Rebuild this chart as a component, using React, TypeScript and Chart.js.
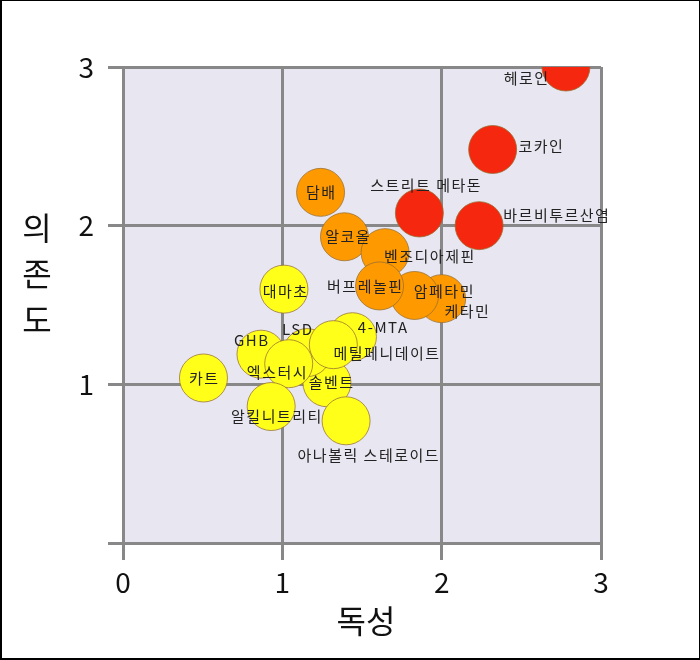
import React, { useEffect, useRef } from 'react';
import { Chart, registerables } from 'chart.js';

Chart.register(...registerables);

// ---- data ----
const drugs = [
  '헤로인', '코카인', '바르비투르산염', '스트리트 메타돈', '알코올',
  '케타민', '벤조디아제핀', '암페타민', '담배', '버프레놀핀',
  '대마초', '솔벤트', '4-MTA', 'LSD', '메틸페니데이트',
  '아나볼릭 스테로이드', 'GHB', '엑스터시', '알킬니트리티', '카트',
];
const toxicity = [
  2.78, 2.32, 2.235, 1.86, 1.39,
  2.0, 1.645, 1.83, 1.24, 1.61,
  1.01, 1.28, 1.44, 1.155, 1.32,
  1.40, 0.866, 1.04, 0.93, 0.505,
];
const dependence = [
  3.0, 2.48, 2.0, 2.08, 1.93,
  1.54, 1.83, 1.56, 2.21, 1.62,
  1.60, 1.01, 1.30, 1.20, 1.25,
  0.77, 1.19, 1.13, 0.86, 1.04,
];
const harmGroup = [
  'high', 'high', 'high', 'high', 'mid',
  'mid', 'mid', 'mid', 'mid', 'mid',
  'low', 'low', 'low', 'low', 'low',
  'low', 'low', 'low', 'low', 'low',
];
const xTickValues = [0, 1, 2, 3];
const xTickLabels = ['0', '1', '2', '3'];
const yTickValues = [0, 1, 2, 3];
const yTickLabels = ['', '1', '2', '3'];
const xTitle = '독성';
const yTitle = '의존도';

// ---- style ----
const groupColor: Record<string, string> = {
  high: '#F5280F',
  mid: '#FF9900',
  low: '#FFFF1A',
};
// label shift (px) relative to marker centre
const labelShift: [number, number][] = [
  [-40, 11], [48, -3], [77, -10], [6, -28], [3, 0],
  [25, 13], [44, 4], [29, -4], [0, 0], [-15, 0],
  [1, 2], [4, 0], [30, -9], [-10, -23], [53, 9],
  [22, 34], [-10, -14], [-12, 9], [5, 10], [0, 0],
];
const FONT = '"Noto Sans CJK KR", "Noto Sans", sans-serif';

export default function App() {
  const ref = useRef<HTMLCanvasElement | null>(null);

  useEffect(() => {
    document.body.style.margin = '0';
    const canvas = ref.current;
    if (!canvas) return;

    const bgPlugin = {
      id: 'bg',
      beforeDraw(chart: any) {
        const { ctx, chartArea, width, height } = chart;
        ctx.save();
        ctx.fillStyle = '#ffffff';
        ctx.fillRect(0, 0, width, height);
        ctx.fillStyle = '#E8E7F1';
        ctx.fillRect(chartArea.left, chartArea.top, chartArea.right - chartArea.left, chartArea.bottom - chartArea.top);
        ctx.restore();
      },
      afterDatasetsDraw(chart: any) {
        const { ctx } = chart;
        const meta = chart.getDatasetMeta(0);
        ctx.save();
        ctx.font = `15px ${FONT}`;
        (ctx as any).letterSpacing = '1.5px';
        ctx.fillStyle = '#222';
        ctx.textAlign = 'center';
        ctx.textBaseline = 'middle';
        meta.data.forEach((pt: any, i: number) => {
          const [dx, dy] = labelShift[i];
          ctx.fillText(drugs[i], pt.x + dx + 0.75, pt.y + dy);
        });
        ctx.restore();
      },
      afterDraw(chart: any) {
        const { ctx, chartArea, width, height } = chart;
        ctx.save();
        // axis titles
        ctx.fillStyle = '#111';
        ctx.textAlign = 'center';
        ctx.textBaseline = 'middle';
        ctx.font = `32px ${FONT}`;
        ctx.fillText(xTitle, (chartArea.left + chartArea.right) / 2 + 4, 621);
        const chars = Array.from(yTitle);
        chars.forEach((c, i) => {
          ctx.fillText(c, 37, 228 + i * 46);
        });
        // outer frame
        ctx.fillStyle = '#000';
        ctx.fillRect(0, 0, width, 1);
        ctx.fillRect(0, 0, 2, height);
        ctx.fillRect(0, height - 2, width, 2);
        ctx.fillRect(width - 1, 0, 1, height);
        ctx.restore();
      },
    };

    const points = toxicity.map((x, i) => ({ x, y: dependence[i] }));

    const chart = new Chart(canvas, {
      type: 'scatter',
      data: {
        datasets: [
          {
            data: points,
            pointRadius: 24,
            pointHoverRadius: 24,
            backgroundColor: harmGroup.map((g) => groupColor[g]),
            borderColor: 'rgba(150,110,50,0.75)',
            borderWidth: 1,
            clip: 0,
          } as any,
        ],
      },
      options: {
        animation: false,
        responsive: false,
        devicePixelRatio: 1,
        events: [],
        layout: { padding: { top: 67, right: 99, left: 0, bottom: 0 } },
        plugins: { legend: { display: false }, tooltip: { enabled: false } },
        scales: {
          x: {
            type: 'linear',
            min: 0,
            max: 3,
            afterBuildTicks: (scale: any) => {
              scale.ticks = xTickValues.map((v) => ({ value: v }));
            },
            afterFit: (scale: any) => {
              scale.height = 117;
            },
            ticks: {
              font: { size: 28, family: FONT },
              color: '#111',
              padding: 6,
              callback: (_v: any, i: number) => xTickLabels[i],
            },
            grid: { color: '#888', lineWidth: 3, tickLength: 17 },
            border: { color: '#888', width: 3 },
          },
          y: {
            type: 'linear',
            min: 0,
            max: 3,
            afterBuildTicks: (scale: any) => {
              scale.ticks = yTickValues.map((v) => ({ value: v }));
            },
            afterFit: (scale: any) => {
              scale.width = 123;
            },
            ticks: {
              font: { size: 28, family: FONT },
              color: '#111',
              padding: 14,
              callback: (_v: any, i: number) => yTickLabels[i],
            },
            grid: { color: '#888', lineWidth: 3, tickLength: 15 },
            border: { color: '#888', width: 3 },
          },
        },
      },
      plugins: [bgPlugin],
    });

    return () => chart.destroy();
  }, []);

  return (
    <div style={{ width: 700, height: 660 }}>
      <canvas ref={ref} width={700} height={660} style={{ width: 700, height: 660, display: 'block' }} />
    </div>
  );
}
